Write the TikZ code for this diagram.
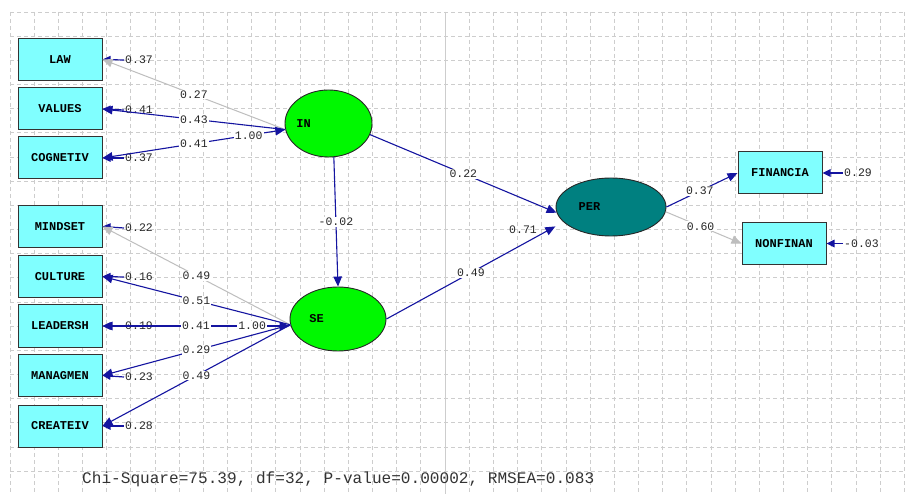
\documentclass[tikz,border=0pt]{standalone}
\usepackage{fontspec}
\setmonofont{Liberation Mono}
\usetikzlibrary{arrows.meta,shapes.geometric}
\definecolor{boxfill}{RGB}{128,255,255}
\definecolor{latgreen}{RGB}{0,248,0}
\definecolor{perteal}{RGB}{0,128,128}
\definecolor{pathblue}{RGB}{20,20,160}
\definecolor{pathgray}{RGB}{190,190,190}
\definecolor{gridgray}{RGB}{205,205,205}
\begin{document}
\begin{tikzpicture}[x=1pt,y=-1pt,
  gridline/.style={gridgray, dash pattern=on 4pt off 3pt, line width=0.8pt},
  obsbox/.style={draw=black!80, fill=boxfill, line width=1pt, minimum width=84pt, minimum height=42pt, inner sep=0pt, font=\ttfamily\bfseries\fontsize{12}{12}\selectfont},
  latent/.style={ellipse, draw=black!85, line width=0.9pt, inner sep=0pt},
  lattext/.style={font=\ttfamily\bfseries\fontsize{12}{12}\selectfont},
  lbl/.style={fill=white, inner sep=1pt, font=\ttfamily\fontsize{11.5}{12}\selectfont, text=black!85},
  errlbl/.style={anchor=west, inner sep=1pt, font=\ttfamily\fontsize{11.5}{12}\selectfont, text=black!85},
  bluepath/.style={pathblue, line width=1.1pt, -{Triangle[length=10pt,width=8.5pt]}},
  graypath/.style={pathgray, line width=1pt, -{Triangle[length=10pt,width=8.5pt]}},
  bothtips/.style={{Triangle[length=10pt,width=8.5pt]}-{Triangle[length=10pt,width=8.5pt]}},
  errarrow/.style={pathblue, line width=1.2pt, -{Triangle[length=8pt,width=7.5pt]}},
]
\useasboundingbox[fill=white] (0,0) rectangle (905,494);
% grid
\foreach \i in {0,...,37} \draw[gridline] ({10+24.17*\i},12) -- ({10+24.17*\i},494);
\foreach \j in {0,...,19} \draw[gridline] (10,{12+24.17*\j}) -- (905,{12+24.17*\j});
\draw[gridgray, line width=0.8pt] (445,12) -- (445,494);

% observed boxes (left)
\node[obsbox] (LAW) at (60,59.5) {LAW};
\node[obsbox] (VALUES) at (60,109) {VALUES};
\node[obsbox] (COGNETIV) at (60,158) {COGNETIV};
\node[obsbox] (MINDSET) at (60,226.5) {MINDSET};
\node[obsbox] (CULTURE) at (60,276.5) {CULTURE};
\node[obsbox] (LEADERSH) at (60,326) {LEADERSH};
\node[obsbox] (MANAGMEN) at (60,375.5) {MANAGMEN};
\node[obsbox] (CREATEIV) at (60,426) {CREATEIV};
% observed boxes (right)
\node[obsbox] (FINANCIA) at (780,173) {FINANCIA};
\node[obsbox] (NONFINAN) at (784,243.5) {NONFINAN};

% latent ellipses
\node[latent, fill=latgreen, minimum width=87pt, minimum height=67pt,
  label={[lattext, xshift=-25pt]center:IN}] (IN) at (328.5,123.5) {};
\node[latent, fill=latgreen, minimum width=96pt, minimum height=64pt,
  label={[lattext, xshift=-21.5pt]center:SE}] (SE) at (338,319) {};
\node[latent, fill=perteal, minimum width=110pt, minimum height=58pt,
  label={[lattext, xshift=-21.5pt]center:PER}] (PER) at (611,207) {};

% error labels and arrows
\node[errlbl] (eLAW) at (124,60) {0.37};
\node[errlbl] (eVALUES) at (124,110) {0.41};
\node[errlbl] (eCOGNETIV) at (124,158) {0.37};
\node[errlbl] (eMINDSET) at (124,228) {0.22};
\node[errlbl] (eCULTURE) at (124,277) {0.16};
\node[errlbl] (eLEADERSH) at (124,326) {0.19};
\node[errlbl] (eMANAGMEN) at (124,377) {0.23};
\node[errlbl] (eCREATEIV) at (124,426) {0.28};
\node[errlbl] (eFINANCIA) at (843,173) {0.29};
\node[errlbl] (eNONFINAN) at (843,243.5) {-0.03};
\node[errlbl] (ePER) at (508,230) {0.71};

\foreach \b in {LAW,VALUES,COGNETIV,MINDSET,CULTURE,LEADERSH,MANAGMEN,CREATEIV,FINANCIA,NONFINAN}
  \draw[errarrow] (e\b.west) -- (\b.east);

% IN loadings
\draw[graypath] (IN.188) -- node[lbl, pos=0.5] {0.27} (LAW.east);
\draw[bluepath] (IN.188) -- node[lbl, pos=0.5] {0.43} (VALUES.east);
\draw[bluepath, bothtips] (IN.188) -- node[lbl, pos=0.2] {1.00} node[lbl, pos=0.5] {0.41} (COGNETIV.east);

% SE loadings
\draw[graypath] (SE.187) -- node[lbl, pos=0.5] {0.49} (MINDSET.east);
\draw[bluepath] (SE.187) -- node[lbl, pos=0.5] {0.51} (CULTURE.east);
\draw[bluepath, bothtips] (SE.west |- LEADERSH.east) -- node[lbl, pos=0.2] {1.00} node[lbl, pos=0.5] {0.41} (LEADERSH.east);
\draw[bluepath] (SE.187) -- node[lbl, pos=0.5] {0.29} (MANAGMEN.east);
\draw[bluepath] (SE.187) -- node[lbl, pos=0.5] {0.49} (CREATEIV.east);

% structural paths
\draw[bluepath] (IN.279) -- node[lbl, pos=0.5] {-0.02} (SE.north);
\draw[bluepath] (IN.345) -- node[lbl, pos=0.5] {0.22} (PER.186);
\draw[bluepath] (SE.east) -- node[lbl, pos=0.5] {0.49} ([xshift=-14pt]PER.205);

% PER loadings
\draw[bluepath] (PER.east) -- node[lbl, pos=0.47] {0.37} (FINANCIA.west);
\draw[graypath] (PER.355) -- node[lbl, pos=0.46] {0.60} (NONFINAN.west);

% fit statistics
\node[anchor=west, inner sep=0pt, font=\ttfamily\fontsize{16.1}{17}\selectfont, text=black!80] (fit) at (82,479) {Chi-Square=75.39, df=32, P-value=0.00002, RMSEA=0.083};
\end{tikzpicture}
\end{document}
